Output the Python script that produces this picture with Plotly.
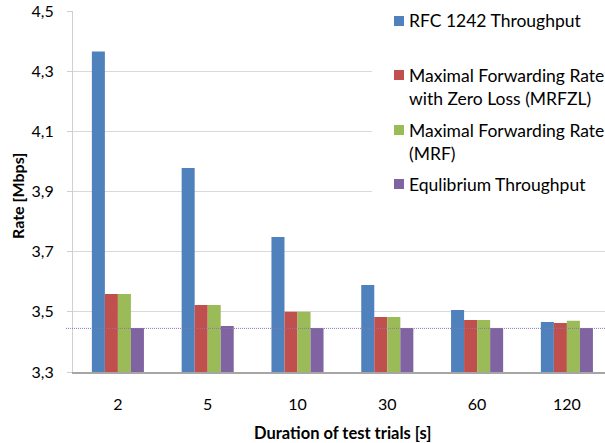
import plotly.graph_objects as go

categories = ["2", "5", "10", "30", "60", "120"]
series_names = [
    "RFC 1242 Throughput",
    "Maximal Forwarding Rate with Zero Loss (MRFZL)",
    "Maximal Forwarding Rate (MRF)",
    "Equlibrium Throughput",
]
legend_lines = [
    ["RFC 1242 Throughput"],
    ["Maximal Forwarding Rate", "with Zero Loss (MRFZL)"],
    ["Maximal Forwarding Rate", "(MRF)"],
    ["Equlibrium Throughput"],
]
rfc1242 = [4.365, 3.978, 3.749, 3.589, 3.506, 3.466]
mrfzl = [3.559, 3.523, 3.500, 3.483, 3.473, 3.463]
mrf = [3.559, 3.523, 3.500, 3.483, 3.473, 3.470]
equilibrium = [3.446, 3.453, 3.446, 3.446, 3.446, 3.446]
equilibrium_level = 3.445
y_ticks = [3.3, 3.5, 3.7, 3.9, 4.1, 4.3, 4.5]
colors = ["#4F81BD", "#C0504D", "#9BBB59", "#8064A2"]

W, H = 605, 443
L, R, T, B = 73, 0, 11, 71
PW = W - L - R
PH = H - T - B
FONT = "Lato"

fig = go.Figure()
for name, vals, col in zip(series_names, [rfc1242, mrfzl, mrf, equilibrium], colors):
    fig.add_trace(go.Bar(x=list(range(len(categories))), y=vals, name=name,
                         marker=dict(color=col, line=dict(width=0)),
                         showlegend=False))

def px_x(p):
    return (p - L) / PW

def px_y(p):
    return 1 - (p - T) / PH

shapes = []
# equilibrium reference dotted line
shapes.append(dict(type="line", xref="paper", yref="y", x0=px_x(66), x1=1,
                   y0=equilibrium_level, y1=equilibrium_level,
                   line=dict(color="#8A78A8", width=1, dash="1px,1px"), layer="above"))
# legend white background covering gridlines
shapes.append(dict(type="rect", xref="paper", yref="paper", x0=px_x(372), x1=px_x(W + 5),
                   y0=px_y(215), y1=px_y(-5), fillcolor="white", line=dict(width=0),
                   layer="above"))

annotations = []
line_centers = [[20], [74, 97], [129, 152], [183]]
for lines, centers, col in zip(legend_lines, line_centers, colors):
    c = centers[0] + 1
    shapes.append(dict(type="rect", xref="paper", yref="paper",
                       x0=px_x(394), x1=px_x(404), y0=px_y(c + 5), y1=px_y(c - 5),
                       fillcolor=col, line=dict(width=0), layer="above"))
    for txt, cy in zip(lines, centers):
        annotations.append(dict(text=txt, xref="paper", yref="paper",
                                x=px_x(407), y=px_y(cy + 1), xanchor="left", yanchor="middle",
                                showarrow=False, font=dict(family=FONT, size=17.5, color="#000000")))

# axis titles
annotations.append(dict(text="<b>Rate [Mbps]</b>", xref="paper", yref="paper",
                        x=px_x(17), y=px_y(196), xanchor="center", yanchor="middle",
                        textangle=-90, showarrow=False,
                        font=dict(family=FONT, size=16, color="#000000")))
annotations.append(dict(text="<b>Duration of test trials [s]</b>", xref="paper", yref="paper",
                        x=px_x(342), y=px_y(433), xanchor="center", yanchor="middle",
                        showarrow=False, font=dict(family=FONT, size=16.5, color="#000000")))

fig.update_layout(
    width=W, height=H,
    margin=dict(l=L, r=R, t=T, b=B, pad=0),
    paper_bgcolor="white", plot_bgcolor="white",
    barmode="group", bargap=0.42, bargroupgap=0,
    separators=", ",
    font=dict(family=FONT, size=16, color="#000000"),
    shapes=shapes, annotations=annotations,
    xaxis=dict(range=[-0.5, -0.5 + PW / 89.8], tickmode="array",
               tickvals=list(range(len(categories))), ticktext=categories,
               showline=True, linecolor="#A6A6A6", linewidth=2, ticks="",
               showgrid=False, zeroline=False, ticklabelstandoff=17,
               tickfont=dict(family=FONT, size=16, color="#000000")),
    yaxis=dict(range=[3.3, 4.5], tickmode="array", tickvals=y_ticks,
               tickformat=".1f", showline=True, linecolor="#D0D0D0", linewidth=1,
               ticks="outside", ticklen=5, tickcolor="#D0D0D0",
               showgrid=True, gridcolor="#D9D9D9", gridwidth=1, zeroline=False,
               ticklabelstandoff=10,
               tickfont=dict(family=FONT, size=16, color="#000000")),
)

fig.write_html("out.html")
